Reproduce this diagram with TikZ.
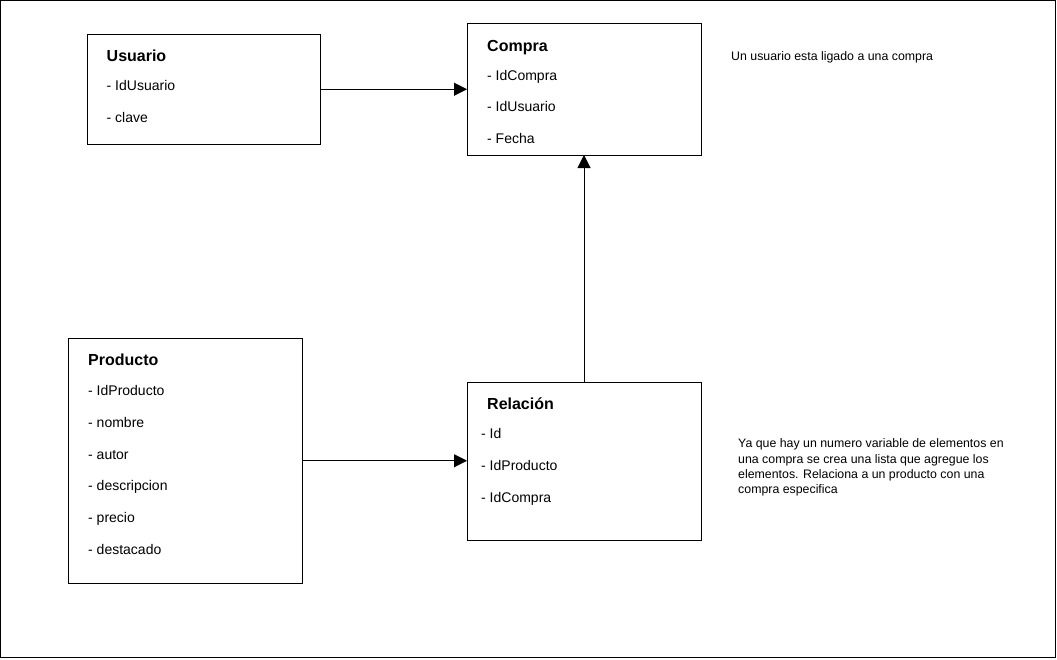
\documentclass[tikz,border=0pt]{standalone}
\usepackage{fontspec}
\setmainfont{Liberation Sans}
\usetikzlibrary{arrows.meta}
\begin{document}
\begin{tikzpicture}[x=1pt,y=-1pt,
 entity/.style={draw=black,line width=1pt,inner sep=0pt,outer sep=0pt,anchor=north west},
 title/.style={anchor=base west,inner sep=0pt,font=\fontsize{16}{19}\selectfont\bfseries},
 attr/.style={anchor=base west,inner sep=0pt,font=\fontsize{14}{17}\selectfont},
 note/.style={anchor=base west,inner sep=0pt,font=\fontsize{12.35}{15}\selectfont},
 link/.style={draw=black,line width=1pt,-{Triangle[length=13pt,width=13pt]}}]
\useasboundingbox (0,0) rectangle (1057,659);
\draw[line width=1pt] (0.5,0.5) rectangle (1055.5,657.5);
% entities
\node[entity,minimum width=233pt,minimum height=110.5pt] (usuario) at (87,34) {};
\node[entity,minimum width=234pt,minimum height=132pt] (compra) at (467,23) {};
\node[entity,minimum width=234pt,minimum height=245.5pt] (producto) at (68,338) {};
\node[entity,minimum width=234pt,minimum height=158pt] (relacion) at (467,382) {};
% Usuario
\node[title] (tu) at (106.5,61) {Usuario};
\node[attr] (u1) at (106.5,90) {- IdUsuario};
\node[attr] (u2) at (106.5,122) {- clave};
% Compra
\node[title] (tc) at (487,51) {Compra};
\node[attr] (c1) at (487,80) {- IdCompra};
\node[attr] (c2) at (487,111.5) {- IdUsuario};
\node[attr] (c3) at (487,143) {- Fecha};
% Producto
\node[title] (tp) at (88,365) {Producto};
\node[attr] (p1) at (88,395) {- IdProducto};
\node[attr] (p2) at (88,427) {- nombre};
\node[attr] (p3) at (88,459) {- autor};
\node[attr] (p4) at (88,490.5) {- descripcion};
\node[attr] (p5) at (88,522.5) {- precio};
\node[attr] (p6) at (88,554) {- destacado};
% Relacion
\node[title] (tr) at (487,409) {Relación};
\node[attr] (r1) at (481,438) {- Id};
\node[attr] (r2) at (481,470) {- IdProducto};
\node[attr] (r3) at (481,502) {- IdCompra};
% notes
\node[note] (n1) at (731,60.5) {Un usuario esta ligado a una compra};
\node[note] (n2a) at (738,447.5) {Ya que hay un numero variable de elementos en};
\node[note] (n2b) at (738,463) {una compra se crea una lista que agregue los};
\node[note] (n2c) at (738,478.3) {elementos. Relaciona a un producto con una};
\node[note] (n2d) at (738,493.6) {compra especifica};
% connectors
\draw[link] (usuario.east) -- (usuario.east -| compra.west);
\draw[link] (producto.east) -- (producto.east -| relacion.west);
\draw[link] (relacion.north) -- (relacion.north |- compra.south);
\end{tikzpicture}
\end{document}
